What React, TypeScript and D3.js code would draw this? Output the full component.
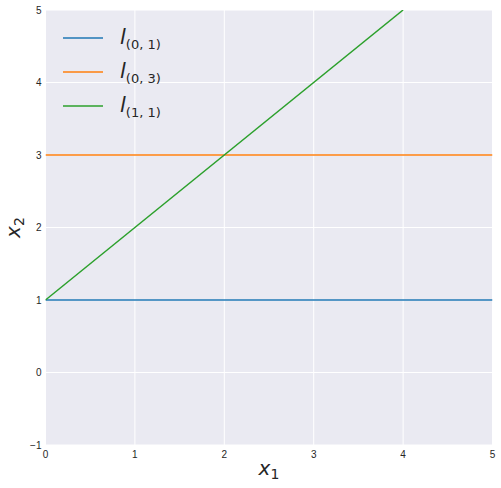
import React from 'react';
import * as d3 from 'd3';

// lines of the form x2 = a * x1 + b, drawn from x1 = 0 until they leave the box
const lineNames = ['(0, 1)', '(0, 3)', '(1, 1)'];
const slopes = [0, 0, 1];
const intercepts = [1, 3, 1];
const colors = ['#1f77b4', '#ff7f0e', '#2ca02c'];

const xTicks = [0, 1, 2, 3, 4, 5];
const yTicks = [-1, 0, 1, 2, 3, 4, 5];

const W = 501;
const H = 488;
const m = { left: 45.5, right: 8.5, top: 10, bottom: 43 };

export default function App() {
  const x = d3.scaleLinear().domain([0, 5]).range([m.left, W - m.right]);
  const y = d3.scaleLinear().domain([-1, 5]).range([H - m.bottom, m.top]);

  const line = d3.line<[number, number]>()
    .x(d => x(d[0]))
    .y(d => y(d[1]));

  const paths = slopes.map((a, i) => {
    const b = intercepts[i];
    // end where the line hits x1 = 5 or x2 = 5
    const xEnd = a === 0 ? 5 : Math.min(5, (5 - b) / a);
    return line([[0, b], [xEnd, a * xEnd + b]]) || '';
  });

  const fmt = (v: number) => (v < 0 ? '\u2212' + Math.abs(v) : String(v));
  const tickFont = '"Liberation Sans", Arial, sans-serif';
  const mathFont = '"DejaVu Sans", sans-serif';

  return (
    <svg width={W} height={H} style={{ display: 'block', position: 'absolute', left: 0, top: 0 }}>
      <rect x={0} y={0} width={W} height={H} fill="#ffffff" />
      <rect x={x(0)} y={y(5)} width={x(5) - x(0)} height={y(-1) - y(5)} fill="#EAEAF2" />
      {xTicks.map(t => (
        <line key={'gx' + t} x1={x(t)} x2={x(t)} y1={y(-1)} y2={y(5)} stroke="#fff" strokeWidth={1} />
      ))}
      {yTicks.map(t => (
        <line key={'gy' + t} x1={x(0)} x2={x(5)} y1={y(t)} y2={y(t)} stroke="#fff" strokeWidth={1} />
      ))}
      <defs>
        <clipPath id="plot">
          <rect x={x(0)} y={y(5)} width={x(5) - x(0)} height={y(-1) - y(5)} />
        </clipPath>
      </defs>
      <g clipPath="url(#plot)">
        {paths.map((d, i) => (
          <path key={i} d={d} fill="none" stroke={colors[i]} strokeWidth={1.5} />
        ))}
      </g>
      {xTicks.map(t => (
        <text key={'tx' + t} x={x(t)} y={y(-1) + 13} textAnchor="middle" fontSize={10}
          fontFamily={tickFont} fill="#262626">{fmt(t)}</text>
      ))}
      {yTicks.map(t => (
        <text key={'ty' + t} x={x(0) - 4} y={y(t) + 3.5} textAnchor="end" fontSize={10}
          fontFamily={tickFont} fill="#262626">{fmt(t)}</text>
      ))}
      <text x={(x(0) + x(5)) / 2} y={H - 13} textAnchor="middle" fontFamily={mathFont} fill="#262626">
        <tspan fontSize={20} fontStyle="italic">x</tspan>
        <tspan fontSize={14} dy={4}>1</tspan>
      </text>
      <text transform={`translate(20,${(y(-1) + y(5)) / 2}) rotate(-90)`} textAnchor="middle"
        fontFamily={mathFont} fill="#262626">
        <tspan fontSize={20} fontStyle="italic">x</tspan>
        <tspan fontSize={14} dy={4}>2</tspan>
      </text>
      {lineNames.map((name, i) => {
        const ly = 38 + i * 34;
        return (
          <g key={'lg' + i}>
            <line x1={63} x2={103} y1={ly} y2={ly} stroke={colors[i]} strokeWidth={1.5} />
            <text x={120} y={ly + 6} fontFamily={mathFont} fill="#262626">
              <tspan fontSize={21} fontStyle="italic">l</tspan>
              <tspan fontSize={13} dy={5}>{name}</tspan>
            </text>
          </g>
        );
      })}
    </svg>
  );
}
